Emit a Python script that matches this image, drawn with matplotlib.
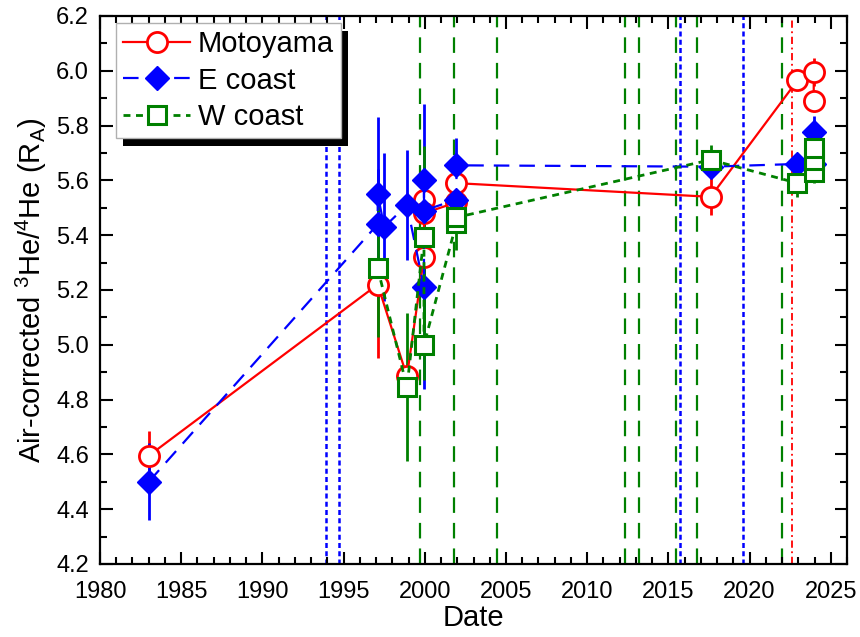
import matplotlib
matplotlib.use("Agg")
import matplotlib.pyplot as plt
from matplotlib.patches import Rectangle
from matplotlib.ticker import MultipleLocator

plt.rcParams['font.family'] = ['Liberation Sans', 'DejaVu Sans']
plt.rcParams['mathtext.default'] = 'regular'

# Motoyama
x_m = [1983.0, 1997.1, 1998.9, 1999.95, 1999.95, 1999.95, 2001.95, 2001.95, 2017.6, 2022.95, 2023.95, 2023.95]
y_m = [4.595, 5.22, 4.885, 5.32, 5.53, 5.48, 5.52, 5.59, 5.54, 5.965, 5.995, 5.89]
e_m = [0.09, 0.27, 0.03, 0.05, 0.05, 0.05, 0.05, 0.05, 0.067, 0.03, 0.05, 0.03]

# E coast
x_e = [1983.0, 1997.1, 1997.1, 1997.5, 1998.9, 1999.95, 1999.95, 1999.95, 2001.95, 2001.95, 2017.6, 2022.95, 2023.95, 2023.95]
y_e = [4.50, 5.44, 5.55, 5.43, 5.51, 5.21, 5.60, 5.49, 5.53, 5.655, 5.65, 5.66, 5.66, 5.775]
e_e = [0.14, 0.2, 0.28, 0.27, 0.2, 0.37, 0.28, 0.1, 0.05, 0.1, 0.03, 0.03, 0.03, 0.06]

# W coast
x_w = [1997.1, 1998.9, 1999.95, 1999.95, 2001.95, 2001.95, 2017.6, 2022.95, 2023.95, 2023.95, 2023.95]
y_w = [5.28, 4.845, 5.395, 5.00, 5.445, 5.465, 5.675, 5.59, 5.63, 5.675, 5.72]
e_w = [0.25, 0.27, 0.33, 0.13, 0.1, 0.03, 0.055, 0.05, 0.04, 0.03, 0.03]

# vertical event lines
v_blue = [1993.9, 1994.7, 2015.7, 2019.6]
v_green = [1999.7, 2001.8, 2004.45, 2012.3, 2013.2, 2015.45, 2016.75, 2022.0]
v_red = [2022.6]

RED, BLUE, GREEN = '#FF0000', '#0000FF', '#008000'

fig = plt.figure(figsize=(8.6, 6.37), dpi=100)
ax = fig.add_axes([0.1163, 0.1146, 0.8686, 0.8603])

for v in v_blue:
    ax.axvline(v, color=BLUE, lw=1.8, ls=(0, (2, 1.3)), zorder=1)
for v in v_green:
    ax.axvline(v, color=GREEN, lw=1.6, ls=(0, (7, 4.5)), zorder=1)
for v in v_red:
    ax.axvline(v, color=RED, lw=1.3, ls=(0, (4, 2, 1, 2)), zorder=1)

# error bars
ax.errorbar(x_m, y_m, yerr=e_m, fmt='none', ecolor=RED, elinewidth=2, capsize=0, zorder=2)
ax.errorbar(x_e, y_e, yerr=e_e, fmt='none', ecolor=BLUE, elinewidth=2, capsize=0, zorder=2.1)
ax.errorbar(x_w, y_w, yerr=e_w, fmt='none', ecolor=GREEN, elinewidth=2, capsize=0, zorder=2.2)

l1, = ax.plot(x_m, y_m, color=RED, lw=1.6, ls='-', marker='o', ms=14.5, mfc='white',
              mec=RED, mew=2, zorder=3, label='Motoyama')
l2, = ax.plot(x_e, y_e, color=BLUE, lw=1.6, ls=(0, (7, 4.5)), marker='D', ms=12.5, mfc=BLUE,
              mec=BLUE, mew=1, zorder=3.1, label='E coast')
l3, = ax.plot(x_w, y_w, color=GREEN, lw=2, ls=(0, (2.5, 2)), marker='s', ms=12.5, mfc='white',
              mec=GREEN, mew=2.2, zorder=3.2, label='W coast')

ax.set_xlim(1980, 2026)
ax.set_ylim(4.2, 6.2)
ax.xaxis.set_major_locator(MultipleLocator(5))
ax.xaxis.set_minor_locator(MultipleLocator(1))
ax.yaxis.set_major_locator(MultipleLocator(0.2))
ax.yaxis.set_minor_locator(MultipleLocator(0.1))
ax.yaxis.set_major_formatter(plt.FormatStrFormatter('%.1f'))
ax.tick_params(which='both', direction='in', top=True, right=True, width=1.5, labelsize=17)
ax.tick_params(axis='x', which='major', pad=12)
ax.tick_params(axis='y', which='major', pad=8)
ax.tick_params(which='major', length=9)
ax.tick_params(which='minor', length=5)
for s in ax.spines.values():
    s.set_linewidth(1.6)

ax.set_xlabel('Date', fontsize=21, labelpad=1)
ax.set_ylabel(r'Air-corrected $^{3}$He/$^{4}$He (R$_{A}$)', fontsize=21, labelpad=5)

leg = ax.legend(handles=[l1, l2, l3], loc='upper left', bbox_to_anchor=(0.0214, 0.987),
                borderaxespad=0, fontsize=21, frameon=True, fancybox=False, framealpha=1,
                edgecolor='#b0b0b0', handlelength=2.3, handletextpad=0.25,
                labelspacing=0.28, borderpad=0.25)
leg.get_frame().set_linewidth(1)
leg.set_zorder(10)

fig.canvas.draw()
bb = leg.get_window_extent().transformed(ax.transAxes.inverted())
dx = 7 / (0.8686 * 860)
dy = 8 / (0.8603 * 637)
shadow = Rectangle((bb.x0 + dx, bb.y0 - dy), bb.width, bb.height, transform=ax.transAxes,
                   facecolor='black', edgecolor='none', zorder=9, clip_on=False)
ax.add_patch(shadow)

fig.savefig('out.png', dpi=100)
